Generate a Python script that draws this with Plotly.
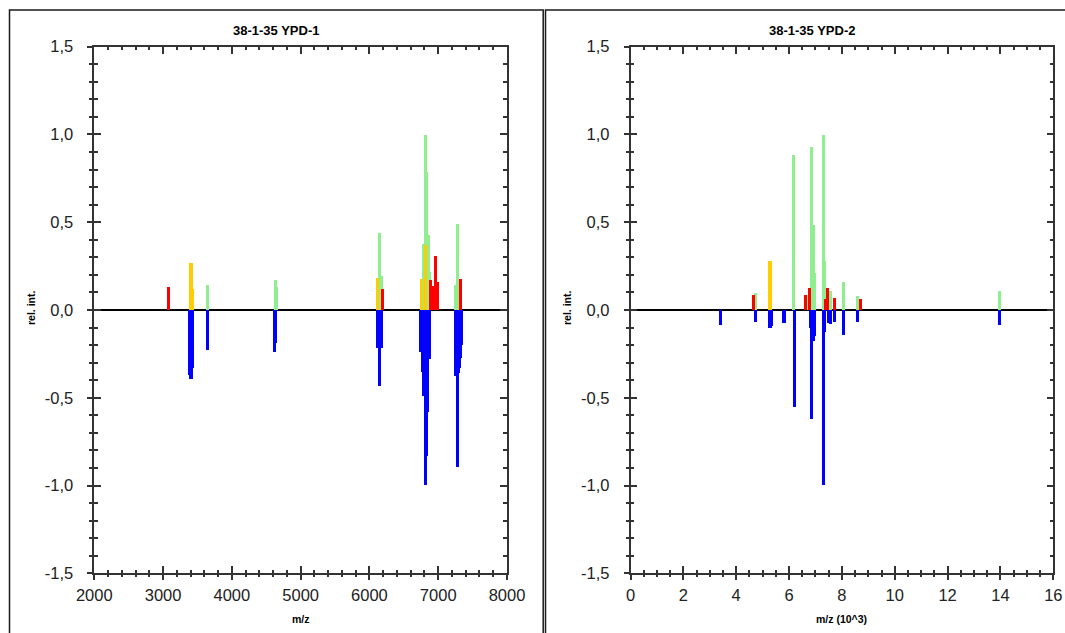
import plotly.graph_objects as go

# ---------------- YPD-1 (m/z in Da) ----------------
green1_mz = [3643, 4632, 4652, 6157, 6178, 6794, 6813, 6837, 6859, 6881, 7259, 7280]
green1_int = [0.146, 0.175, 0.13, 0.44, 0.198, 0.38, 0.997, 0.788, 0.427, 0.218, 0.146, 0.494]

yellow1_mz = [3410, 3430, 6128, 6765, 6820]
yellow1_int = [0.27, 0.12, 0.182, 0.18, 0.374]

red1_mz = [3081, 6195, 6890, 6935, 6968, 6993, 7334]
red1_int = [0.13, 0.124, 0.175, 0.14, 0.31, 0.16, 0.177]

blue1_mz = [3390, 3410, 3432, 3643, 4625, 4645, 6128, 6157, 6178,
            6754, 6770, 6789, 6813, 6832, 6852, 6871,
            7259, 7280, 7300, 7315, 7330, 7345]
blue1_int = [-0.37, -0.39, -0.33, -0.228, -0.235, -0.185, -0.215, -0.433, -0.215,
             -0.24, -0.35, -0.49, -0.995, -0.83, -0.58, -0.28,
             -0.376, -0.89, -0.36, -0.33, -0.27, -0.2]

# ---------------- YPD-2 (m/z in 10^3) ----------------
green2_mz = [4.72, 6.16, 6.67, 6.84, 6.90, 6.95, 7.28, 7.33, 7.54, 8.04, 8.58, 13.93]
green2_int = [0.10, 0.885, 0.09, 0.93, 0.486, 0.21, 0.997, 0.28, 0.11, 0.16, 0.08, 0.11]

yellow2_mz = [5.26]
yellow2_int = [0.28]

red2_mz = [4.62, 6.61, 6.77, 7.36, 7.44, 7.69, 8.67]
red2_int = [0.09, 0.09, 0.125, 0.066, 0.125, 0.072, 0.065]

blue2_mz = [3.40, 4.72, 5.26, 5.31, 5.79, 6.18, 6.78, 6.84, 6.90, 6.95,
            7.28, 7.33, 7.47, 7.55, 7.70, 8.04, 8.58, 13.93]
blue2_int = [-0.085, -0.065, -0.10, -0.09, -0.074, -0.553, -0.10, -0.617, -0.175, -0.146,
             -0.995, -0.125, -0.072, -0.08, -0.066, -0.14, -0.065, -0.085]

# ---------------- axis ticks ----------------
x1_ticks = [2000, 3000, 4000, 5000, 6000, 7000, 8000]
x1_labels = ["2000", "3000", "4000", "5000", "6000", "7000", "8000"]
x2_ticks = [0, 2, 4, 6, 8, 10, 12, 14, 16]
x2_labels = ["0", "2", "4", "6", "8", "10", "12", "14", "16"]
y_ticks = [-1.5, -1.0, -0.5, 0.0, 0.5, 1.0, 1.5]
y_labels = ["-1,5", "-1,0", "-0,5", "0,0", "0,5", "1,0", "1,5"]

GREEN = "#90ee90"
YELLOW = "#ffcc00"
RED = "#ff0000"
BLUE = "#0000ff"
AX = "#333333"

W, H = 1065, 633


def px_x(p):
    return p / W


def px_y(p):
    return 1 - p / H


fig = go.Figure()


def add_bars(mz, inten, color, xa, ya, width):
    fig.add_trace(go.Bar(
        x=mz, y=inten, width=width,
        marker=dict(color=color, line=dict(width=0)),
        xaxis=xa, yaxis=ya, showlegend=False,
    ))


W1 = 44      # bar width, Da
W2 = 0.115   # bar width, 10^3
for mz, it, c in [(blue1_mz, blue1_int, BLUE), (green1_mz, green1_int, GREEN),
                  (yellow1_mz, yellow1_int, YELLOW), (red1_mz, red1_int, RED)]:
    add_bars(mz, it, c, "x", "y", W1)
for mz, it, c in [(blue2_mz, blue2_int, BLUE), (green2_mz, green2_int, GREEN),
                  (yellow2_mz, yellow2_int, YELLOW), (red2_mz, red2_int, RED)]:
    add_bars(mz, it, c, "x2", "y2", W2)

# empty traces to host the outer tick axes
for xa, ya in [("x3", "y"), ("x", "y3"), ("x4", "y2"), ("x2", "y4")]:
    fig.add_trace(go.Scatter(x=[None], y=[None], xaxis=xa, yaxis=ya,
                             showlegend=False, hoverinfo="skip"))

TICKFONT = dict(family="Liberation Sans, Arial, sans-serif", size=16.5, color="#222222")

y_dom = [px_y(573.3), px_y(46.7)]
x1_dom = [px_x(94.3), px_x(507.0)]
x2_dom = [px_x(630.5), px_x(1053.3)]


def main_x(dom, rng, tv, tt, minor_dt, anchor):
    return dict(domain=dom, range=rng, anchor=anchor, tickmode="array",
                tickvals=tv, ticktext=tt, ticks="inside", ticklen=8,
                tickwidth=1.5, tickcolor=AX, showline=True, linewidth=1.5,
                linecolor=AX, mirror="ticks", showgrid=False, zeroline=False,
                automargin=False,
                minor=dict(tickmode="linear", tick0=rng[0], dtick=minor_dt,
                           ticks="inside", ticklen=4, tickwidth=1.5,
                           tickcolor=AX, showgrid=False),
                tickfont=TICKFONT, ticklabelstandoff=6, fixedrange=True)


def outer_x(dom, rng, tv, minor_dt, over, anchor):
    return dict(domain=dom, range=rng, overlaying=over, anchor=anchor,
                side="bottom", tickmode="array", tickvals=tv, ticks="outside",
                ticklen=6, tickwidth=1.5, tickcolor=AX, showticklabels=False,
                showline=False, showgrid=False, zeroline=False,
                automargin=False,
                minor=dict(tickmode="linear", tick0=rng[0], dtick=minor_dt,
                           ticks="outside", ticklen=3, tickwidth=1.5,
                           tickcolor=AX, showgrid=False),
                fixedrange=True)


def main_y(anchor):
    return dict(domain=y_dom, range=[-1.5, 1.5], anchor=anchor,
                tickmode="array", tickvals=y_ticks, ticktext=y_labels,
                ticks="inside", ticklen=7, tickwidth=1.5, tickcolor=AX,
                showline=True, linewidth=1.5, linecolor=AX, mirror="ticks",
                showgrid=False, zeroline=True, zerolinecolor="#000000",
                zerolinewidth=1.5, automargin=False,
                minor=dict(tickmode="linear", tick0=-1.5, dtick=0.1,
                           ticks="inside", ticklen=4, tickwidth=1.5,
                           tickcolor=AX, showgrid=False),
                tickfont=TICKFONT, ticklabelstandoff=16, fixedrange=True)


def outer_y(over, anchor):
    return dict(domain=y_dom, range=[-1.5, 1.5], overlaying=over,
                anchor=anchor, side="left", tickmode="array",
                tickvals=y_ticks, ticks="outside", ticklen=6, tickwidth=1.5,
                tickcolor=AX, showticklabels=False, showline=False,
                showgrid=False, zeroline=False, automargin=False,
                minor=dict(tickmode="linear", tick0=-1.5, dtick=0.1,
                           ticks="outside", ticklen=4, tickwidth=1.5,
                           tickcolor=AX, showgrid=False),
                fixedrange=True)


TXT = "Liberation Sans, Arial, sans-serif"
annotations = []
for cx, title in [(276, "38-1-35 YPD-1"), (812, "38-1-35 YPD-2")]:
    annotations.append(dict(x=px_x(cx), y=px_y(30), xref="paper", yref="paper",
                            text="<b>%s</b>" % title, showarrow=False,
                            font=dict(family=TXT, size=13, color="#000000"),
                            xanchor="center", yanchor="middle"))
for cx, xlab in [((94.3 + 507) / 2, "m/z"), ((630.5 + 1053.3) / 2, "m/z (10^3)")]:
    annotations.append(dict(x=px_x(cx), y=px_y(619), xref="paper", yref="paper",
                            text="<b>%s</b>" % xlab, showarrow=False,
                            font=dict(family=TXT, size=10.5, color="#000000"),
                            xanchor="center", yanchor="middle"))
for cx in [31, 567]:
    annotations.append(dict(x=px_x(cx), y=px_y(308), xref="paper", yref="paper",
                            text="<b>rel. int.</b>", showarrow=False, textangle=-90,
                            font=dict(family=TXT, size=10.5, color="#000000"),
                            xanchor="center", yanchor="middle"))

FRAME = dict(color="#1a1a1a", width=1.5)
shapes = [
    dict(type="rect", xref="paper", yref="paper", x0=px_x(9.5), x1=px_x(543.2),
         y0=px_y(660), y1=px_y(10), line=FRAME),
    dict(type="rect", xref="paper", yref="paper", x0=px_x(545.5), x1=px_x(1090),
         y0=px_y(660), y1=px_y(10), line=FRAME),
]

fig.update_layout(
    template="none",
    width=W, height=H, margin=dict(l=0, r=0, t=0, b=0, pad=0, autoexpand=False),
    paper_bgcolor="white", plot_bgcolor="white",
    barmode="overlay", bargap=0, showlegend=False,
    xaxis=main_x(x1_dom, [2000, 8000], x1_ticks, x1_labels, 200, "y"),
    yaxis=main_y("x"),
    xaxis2=main_x(x2_dom, [0, 16], x2_ticks, x2_labels, 0.5, "y2"),
    yaxis2=main_y("x2"),
    xaxis3=outer_x(x1_dom, [2000, 8000], x1_ticks, 200, "x", "y"),
    yaxis3=outer_y("y", "x"),
    xaxis4=outer_x(x2_dom, [0, 16], x2_ticks, 0.5, "x2", "y2"),
    yaxis4=outer_y("y2", "x2"),
    annotations=annotations, shapes=shapes,
)

fig.write_html("out.html")
